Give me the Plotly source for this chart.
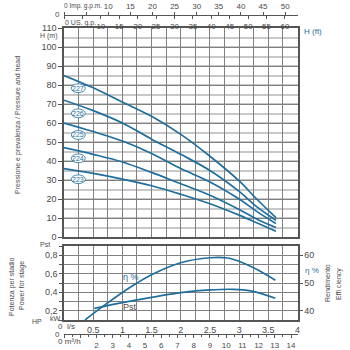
import plotly.graph_objects as go

# ---------------- data ----------------
flow_ls = [0, 0.5, 1.0, 1.5, 2.0, 2.5, 3.0, 3.3, 3.63]
head_223 = [36, 33.5, 30.5, 27, 22.5, 17.5, 11.5, 7.5, 3.0]
head_224 = [47, 43.5, 39.5, 34, 28, 22, 14.5, 9.5, 5.0]
head_225 = [60, 55.5, 50.5, 44, 36, 29, 20, 13.5, 7.1]
head_226 = [72, 66.5, 60, 51.5, 43.5, 35, 24, 16, 8.8]
head_227 = [85, 78.5, 71, 63.5, 54, 42.5, 29.5, 20, 10.2]
model_names = ["223", "224", "225", "226", "227"]
label_q = 0.245
label_head = [30.4, 41.4, 53.7, 65.1, 78.3]

eff_flow = [0.36, 0.7, 1.0, 1.25, 1.5, 2.0, 2.5, 2.8, 3.05, 3.33, 3.62]
eff_pct = [36.7, 42.1, 46.6, 50.0, 53.0, 57.3, 59.1, 59.0, 57.4, 54.6, 51.0]
pst_flow = [0.52, 1.0, 1.5, 2.0, 2.5, 2.9, 3.2, 3.62]
pst_kw = [0.226, 0.288, 0.345, 0.395, 0.425, 0.432, 0.415, 0.335]

ls_ticks = [i * 0.25 for i in range(17)]
ls_labels = ["" if (i % 2 or i == 0) else ("%g" % (i * 0.25)) for i in range(17)]
m_ticks = list(range(0, 111, 10))
ft_ticks = list(range(0, 301, 25))
imp_ticks = list(range(0, 51, 5))
imp_labels = ["", ""] + [str(v) for v in range(10, 51, 5)]
us_ticks = list(range(0, 61, 5))
us_labels = ["", ""] + [str(v) for v in range(10, 61, 5)]
m3h_ticks = list(range(0, 15))
m3h_labels = ["", ""] + [str(v) for v in range(2, 15)]
kw_ticks = [0.1, 0.2, 0.3, 0.4, 0.5, 0.6, 0.7, 0.8, 0.9]
kw_labels = ["", "0,2", "", "0,4", "", "0,6", "", "0,8", ""]
hp_ticks = [0.2, 0.4, 0.6, 0.8]
hp_labels = ["0,2", "0,5", "0,8", "1,0"]
eff_ticks = [40, 50, 60]

# ---------------- style ----------------
FONT = "Liberation Sans, Arial, sans-serif"
BLUE = "#1f6e9e"
TXT = "#4a4a4a"
GRID = "#808080"
GRID_L = "#c8c8c8"
BORDER = "#555555"
W, H = 350, 350
T_PX, B_PX = 15, 334


def px_x(p):
    return p / W


def px_y(p):
    return (B_PX - p) / (B_PX - T_PX)


XDOM = [px_x(64), px_x(297.5)]
TOP_DOM = [px_y(237), px_y(28)]
BOT_DOM = [px_y(320), px_y(246)]

fig = go.Figure()
curves = [head_223, head_224, head_225, head_226, head_227]
for name, hh in zip(model_names, curves):
    fig.add_trace(go.Scatter(x=flow_ls, y=hh, mode="lines", name=name,
                             line=dict(color=BLUE, width=1.7, shape="spline"),
                             xaxis="x", yaxis="y", hoverinfo="skip"))
fig.add_trace(go.Scatter(x=eff_flow, y=eff_pct, mode="lines", name="eta",
                         line=dict(color=BLUE, width=1.7, shape="spline"),
                         xaxis="x2", yaxis="y4"))
fig.add_trace(go.Scatter(x=pst_flow, y=pst_kw, mode="lines", name="Pst",
                         line=dict(color=BLUE, width=1.7, shape="spline"),
                         xaxis="x2", yaxis="y3"))
# invisible anchors so that the extra unit axes get drawn
for xa, ya, yv in [("x3", "y", 50), ("x4", "y", 50), ("x5", "y3", 0.5)]:
    fig.add_trace(go.Scatter(x=[0], y=[yv], xaxis=xa, yaxis=ya, mode="markers",
                             marker=dict(opacity=0, size=1), hoverinfo="skip",
                             showlegend=False))

TS = 9
tf = dict(family=FONT, size=TS, color=TXT)
tf8 = dict(family=FONT, size=8, color=TXT)
common_box = dict(showline=True, mirror=True, linecolor=BORDER, linewidth=1.5,
                  zeroline=False, automargin=False)

fig.update_layout(
    width=W, height=H, template="none", showlegend=False,
    margin=dict(l=0, r=0, t=T_PX, b=H - B_PX, pad=0),
    paper_bgcolor="white", plot_bgcolor="white",
    font=tf,
    xaxis=dict(domain=XDOM, anchor="y", range=[0, 4], tickmode="array", tickvals=ls_ticks,
               showticklabels=False, ticks="", showgrid=True, gridcolor=GRID, gridwidth=1,
               **common_box),
    yaxis=dict(domain=TOP_DOM, anchor="x", range=[0, 110], tickmode="array", tickvals=m_ticks,
               ticks="outside", ticklen=4, tickcolor=BORDER, tickfont=tf,
               showgrid=True, gridcolor=GRID, gridwidth=1,
               minor=dict(dtick=5, tick0=0, showgrid=True, gridcolor=GRID_L, gridwidth=1.5),
               **common_box),
    yaxis2=dict(overlaying="y", side="right", anchor="x", range=[0, 333], tickmode="array",
                tickvals=ft_ticks, ticks="outside", ticklen=4, tickcolor=BORDER, tickfont=tf,
                showgrid=False, showline=False, zeroline=False, automargin=False),
    xaxis3=dict(overlaying="x", anchor="free", position=1, side="top", range=[0, 52.79],
                tickmode="array", tickvals=imp_ticks, ticktext=imp_labels, ticks="outside",
                ticklen=3, tickcolor=BORDER, showline=True, linecolor=BORDER, linewidth=1,
                showgrid=False, zeroline=False, tickfont=tf8, automargin=False),
    xaxis4=dict(overlaying="x", anchor="free", position=1, side="bottom", range=[0, 63.40],
                tickmode="array", tickvals=us_ticks, ticktext=us_labels, ticks="outside",
                ticklen=3, tickcolor=BORDER, showline=True, linecolor=BORDER, linewidth=1,
                showgrid=False, zeroline=False, tickfont=tf8, automargin=False),
    xaxis2=dict(domain=XDOM, anchor="y3", range=[0, 4], tickmode="array", tickvals=ls_ticks,
                ticktext=ls_labels, ticks="", tickfont=tf, showgrid=True, gridcolor=GRID,
                gridwidth=1, **common_box),
    yaxis3=dict(domain=BOT_DOM, anchor="x2", range=[0.1, 0.9], tickmode="array",
                tickvals=kw_ticks, ticktext=kw_labels, ticks="outside", ticklen=3,
                tickcolor=BORDER, tickfont=tf, showgrid=True, gridcolor=GRID, gridwidth=1,
                **common_box),
    yaxis4=dict(overlaying="y3", side="right", anchor="x2", range=[36.667, 63.333],
                tickmode="array", tickvals=eff_ticks, ticks="outside", ticklen=4,
                tickcolor=BORDER, tickfont=tf, showgrid=False, showline=False,
                zeroline=False, automargin=False),
    yaxis5=dict(overlaying="y3", anchor="free", position=px_x(49), side="left",
                range=[0.1, 0.9], tickmode="array", tickvals=hp_ticks, ticktext=hp_labels,
                ticks="outside", ticklen=10, tickcolor=BORDER, tickfont=tf,
                showgrid=False, showline=False, zeroline=False, automargin=False),
    xaxis5=dict(overlaying="x2", anchor="free", position=0, side="bottom", range=[0, 14.4],
                tickmode="array", tickvals=m3h_ticks, ticktext=m3h_labels, ticks="outside",
                ticklen=3, tickcolor=BORDER, showline=True, linecolor=BORDER, linewidth=1,
                showgrid=False, zeroline=False, tickfont=tf8, automargin=False,
                minor=dict(dtick=0.5, tick0=0, ticks="outside", ticklen=2, tickcolor=BORDER)),
)

ann = []


def pa(text, x, y, size=TS, color=TXT, angle=0, xanchor="center", yanchor="middle"):
    ann.append(dict(text=text, x=px_x(x), y=px_y(y), xref="paper", yref="paper",
                    showarrow=False, textangle=angle, xanchor=xanchor, yanchor=yanchor,
                    font=dict(family=FONT, size=size, color=color)))


pa("Pressione e prevalenza / Pressure and head", 18, 125, size=7, angle=-90)
pa("Potenza per stadio", 12, 287, size=7, angle=-90)
pa("Power for stage", 22, 286, size=7, angle=-90)
pa("Rendimento", 327, 283, size=7, angle=-90)
pa("Effi ciency", 339, 284, size=7, angle=-90)
pa("η %", 312, 270, size=8, color=BLUE)
pa("H (ft)", 313, 31, size=8, color=BLUE)
pa("H (m)", 49, 36, size=7)
pa("0 Imp. g.p.m.", 62, 6, size=6.5, xanchor="left")
pa("0 US. g.p.", 62.5, 23, size=7, xanchor="left")
pa("0", 58, 14, size=8)
pa("0", 58, 334, size=8)
pa("0  l/s", 55.5, 326, size=8, xanchor="left")
pa("0 m³/h", 56, 342, size=8, xanchor="left")
pa("Pst", 45, 244, size=7)
pa("HP", 37, 321, size=7)
pa("kW", 55, 318, size=7)

# in-plot labels (data coordinates)
ann.append(dict(text="η %", x=1.15, y=52, xref="x2", yref="y4", showarrow=False,
                font=dict(family=FONT, size=9, color=BLUE)))
ann.append(dict(text="Pst", x=1.13, y=0.245, xref="x2", yref="y3", showarrow=False,
                font=dict(family=FONT, size=9, color=TXT)))
shapes = []
for name, hv in zip(model_names, label_head):
    ann.append(dict(text=name, x=label_q, y=hv, xref="x", yref="y", showarrow=False,
                    font=dict(family=FONT, size=7, color=BLUE)))
    shapes.append(dict(type="circle", xref="x", yref="y", x0=label_q - 0.12, x1=label_q + 0.12,
                       y0=hv - 2.3, y1=hv + 2.3, line=dict(color=BLUE, width=0.8),
                       fillcolor="white", layer="above"))

fig.update_layout(annotations=ann, shapes=shapes)
fig.write_html("out.html")
